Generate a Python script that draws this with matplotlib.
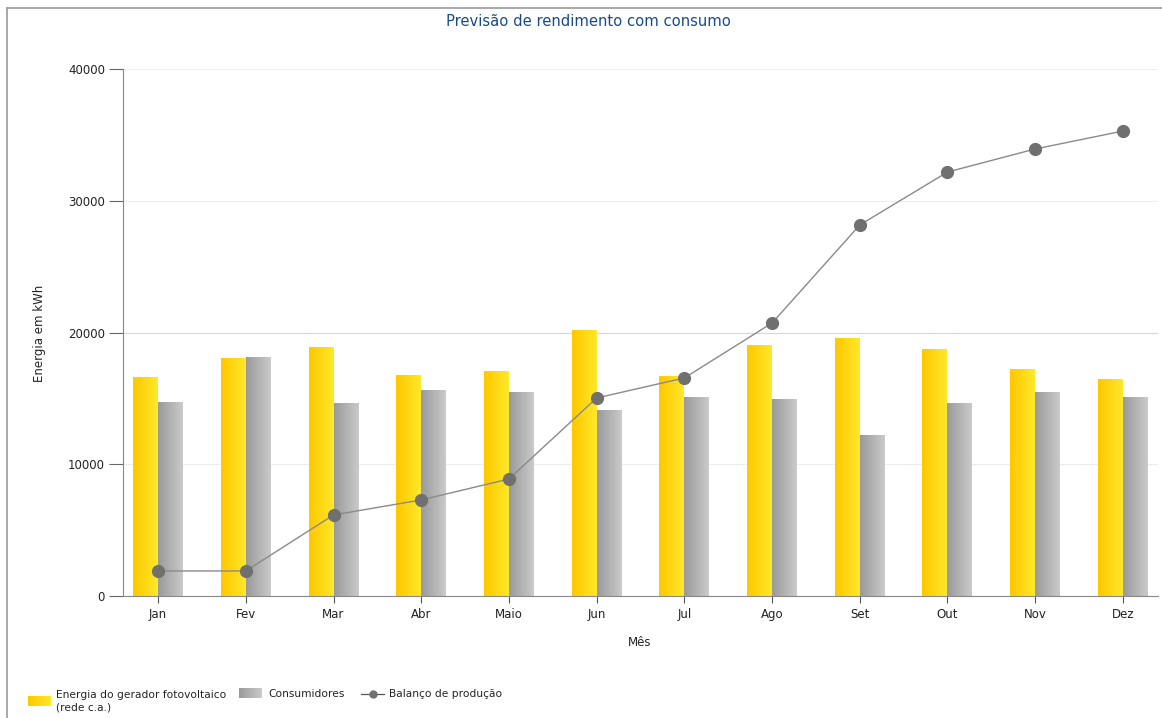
import matplotlib
matplotlib.use("Agg")
import matplotlib.pyplot as plt
import numpy as np
from matplotlib.lines import Line2D
from matplotlib.colors import LinearSegmentedColormap

months = ["Jan", "Fev", "Mar", "Abr", "Maio", "Jun", "Jul", "Ago", "Set", "Out", "Nov", "Dez"]
pv_energy = [16620, 18070, 18900, 16780, 17080, 20190, 16700, 19050, 19580, 18750, 17230, 16480]
consumers = [14720, 18120, 14660, 15640, 15480, 14120, 15100, 14950, 12220, 14660, 15480, 15100]
balance = [1900, 1900, 6150, 7290, 8880, 15030, 16550, 20720, 28160, 32180, 33930, 35290]

title = "Previsão de rendimento com consumo"
ylabel = "Energia em kWh"
xlabel = "Mês"
legend_labels = ["Energia do gerador fotovoltaico\n(rede c.a.)", "Consumidores", "Balanço de produção"]
yticks = [0, 10000, 20000, 30000, 40000]

plt.rcParams['font.family'] = ['DejaVu Sans']
W, H = 1162, 718
fig = plt.figure(figsize=(W/100, H/100), dpi=100)
ax = fig.add_axes([123/W, 1-596/H, (1158-123)/W, (596-69)/H])

x = np.arange(len(months))
w = 0.285
yellow_cmap = LinearSegmentedColormap.from_list("y", ["#FFC800", "#FFE82A"])
gray_cmap = LinearSegmentedColormap.from_list("g", ["#9A9A9A", "#CACACA"])
grad = np.linspace(0, 1, 64).reshape(1, -1)

def grad_bars(xs, vals, cmap):
    bars = ax.bar(xs, vals, width=w, color="none", edgecolor="none", zorder=2)
    for b in bars:
        x0, y0 = b.get_x(), b.get_y()
        im = ax.imshow(grad, cmap=cmap, aspect="auto",
                       extent=[x0, x0 + b.get_width(), y0, y0 + b.get_height()],
                       zorder=2, interpolation="bilinear")
        im.set_clip_path(b)
    return bars

grad_bars(x - w/2, pv_energy, yellow_cmap)
grad_bars(x + w/2, consumers, gray_cmap)

ax.plot(x, balance, color="#8A8A8A", lw=1.0, marker="o", markersize=8.5,
        markerfacecolor="#707070", markeredgecolor="#707070", zorder=4)

ax.set_xlim(-0.4, 11.4)
ax.set_ylim(0, 40000)
ax.set_yticks(yticks)
ax.set_yticklabels([str(v) for v in yticks])
ax.set_xticks(x)
ax.set_xticklabels(months)
ax.tick_params(axis="both", labelsize=8.5, labelcolor="#222222", length=8, width=0.8)
ax.tick_params(axis="y", color="#666666", length=10, pad=3)
ax.tick_params(axis="x", color="#555555", length=5)
for s in ["top", "right"]:
    ax.spines[s].set_visible(False)
ax.spines["left"].set_color("#888888")
ax.spines["bottom"].set_color("#888888")
ax.yaxis.grid(True, color="#EDEDED", lw=0.8, zorder=0)
ax.axhline(20000, color="#D8D8D8", lw=0.8, zorder=1)
ax.set_axisbelow(True)

fig.text(588/W, 1-22/H, title, ha="center", va="center", fontsize=10.6, color="#174A8B")
fig.text(40/W, 1-333/H, ylabel, ha="center", va="center", rotation=90, fontsize=8.5, color="#222222")
fig.text(640/W, 1-642/H, xlabel, ha="center", va="center", fontsize=8.5, color="#222222")

# outer frame (top and left)
fig.add_artist(Line2D([7/W, 7/W], [0, 1-8/H], transform=fig.transFigure, color="#9A9A9A", lw=1.2))
fig.add_artist(Line2D([7/W, 1], [1-8/H, 1-8/H], transform=fig.transFigure, color="#9A9A9A", lw=1.2))

# legend (custom layout)
def fig_grad_rect(x0, y0, wpx, hpx, cmap):
    axl = fig.add_axes([x0/W, 1-(y0+hpx)/H, wpx/W, hpx/H])
    axl.imshow(grad, cmap=cmap, aspect="auto", interpolation="bilinear")
    axl.axis("off")

lfs = 7.7
fig_grad_rect(28, 696, 23, 10, yellow_cmap)
fig.text(56/W, 1-701/H, legend_labels[0], ha="left", va="center", fontsize=lfs,
         color="#222222", linespacing=1.35)
fig_grad_rect(239, 688, 23, 10, gray_cmap)
fig.text(268/W, 1-694/H, legend_labels[1], ha="left", va="center", fontsize=lfs, color="#222222")
fig.add_artist(Line2D([361/W, 384/W], [1-694/H, 1-694/H], transform=fig.transFigure,
                      color="#555555", lw=0.9))
fig.add_artist(Line2D([372.5/W], [1-694/H], transform=fig.transFigure, lw=0,
                      marker="o", markersize=5, markerfacecolor="#707070", markeredgecolor="#707070"))
fig.text(389/W, 1-694/H, legend_labels[2], ha="left", va="center", fontsize=lfs, color="#222222")

fig.savefig("out.png", dpi=100)
